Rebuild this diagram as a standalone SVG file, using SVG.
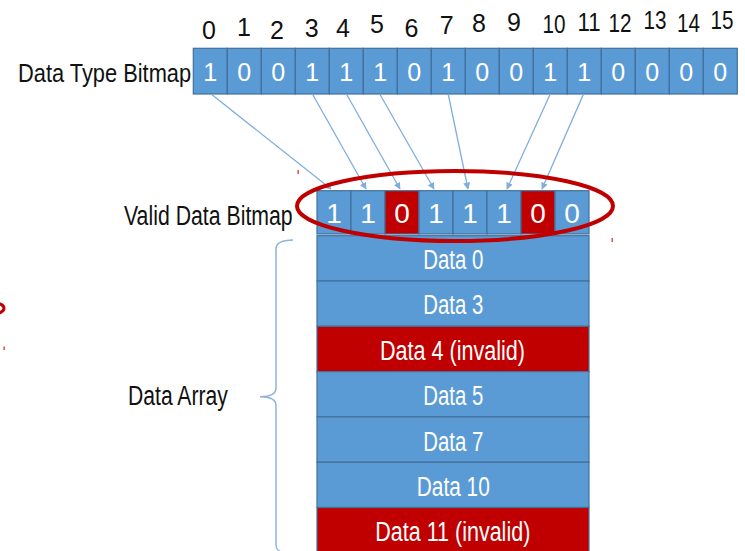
<svg xmlns="http://www.w3.org/2000/svg" width="745" height="551" viewBox="0 0 745 551">
<defs>
<style>
.t{font-family:"Liberation Sans",Arial,sans-serif;fill:#111}
.w{font-family:"Liberation Sans",Arial,sans-serif;fill:#fff;text-anchor:middle}
.idx{font-family:"Liberation Sans",Arial,sans-serif;fill:#111;font-size:25px;text-anchor:middle}
.b{fill:#5B9BD5;stroke:#41719C;stroke-width:1.2}
.r{fill:#C00000;stroke:#41719C;stroke-width:1.2}
.c{stroke:#7FAEDC;stroke-width:1.3;fill:none;marker-end:url(#ah)}
</style>
<marker id="ah" viewBox="0 0 10 10" refX="9" refY="5" markerWidth="7" markerHeight="7" orient="auto" markerUnits="userSpaceOnUse">
<path d="M0,0 L10,5 L0,10 z" fill="#7FAEDC"/>
</marker>
</defs>
<rect width="745" height="551" fill="#fff"/>

<g id="indices">
<text class="idx" x="209" y="39">0</text>
<text class="idx" x="244" y="36">1</text>
<text class="idx" x="277" y="39">2</text>
<text class="idx" x="311.7" y="36.7">3</text>
<text class="idx" x="343" y="36.7">4</text>
<text class="idx" x="377" y="33.3">5</text>
<text class="idx" x="411.5" y="37">6</text>
<text class="idx" x="446.7" y="34">7</text>
<text class="idx" x="479" y="32">8</text>
<text class="idx" x="514" y="30.7">9</text>
<text class="idx" x="554" y="33.3" textLength="23" lengthAdjust="spacingAndGlyphs">10</text>
<text class="idx" x="589" y="30.7" textLength="23" lengthAdjust="spacingAndGlyphs">11</text>
<text class="idx" x="620" y="31.7" textLength="23" lengthAdjust="spacingAndGlyphs">12</text>
<text class="idx" x="655" y="29.3" textLength="23" lengthAdjust="spacingAndGlyphs">13</text>
<text class="idx" x="688.5" y="31.7" textLength="23" lengthAdjust="spacingAndGlyphs">14</text>
<text class="idx" x="722" y="29.3" textLength="23" lengthAdjust="spacingAndGlyphs">15</text>
</g>

<g id="data-type-bitmap-label">
<text class="t" transform="translate(18,81.7) scale(0.84,1)" font-size="26">Data Type Bitmap</text>
</g>

<g id="data-type-bitmap" font-size="25">
<rect class="b" x="193.3" y="48.3" width="34" height="45.7"/>
<rect class="b" x="227.3" y="48.3" width="34" height="45.7"/>
<rect class="b" x="261.3" y="48.3" width="34" height="45.7"/>
<rect class="b" x="295.3" y="48.3" width="34" height="45.7"/>
<rect class="b" x="329.3" y="48.3" width="34" height="45.7"/>
<rect class="b" x="363.3" y="48.3" width="34" height="45.7"/>
<rect class="b" x="397.3" y="48.3" width="34" height="45.7"/>
<rect class="b" x="431.3" y="48.3" width="34" height="45.7"/>
<rect class="b" x="465.3" y="48.3" width="34" height="45.7"/>
<rect class="b" x="499.3" y="48.3" width="34" height="45.7"/>
<rect class="b" x="533.3" y="48.3" width="34" height="45.7"/>
<rect class="b" x="567.3" y="48.3" width="34" height="45.7"/>
<rect class="b" x="601.3" y="48.3" width="34" height="45.7"/>
<rect class="b" x="635.3" y="48.3" width="34" height="45.7"/>
<rect class="b" x="669.3" y="48.3" width="34" height="45.7"/>
<rect class="b" x="703.3" y="48.3" width="34" height="45.7"/>
<text class="w" x="210.3" y="81">1</text>
<text class="w" x="244.3" y="81">0</text>
<text class="w" x="278.3" y="81">0</text>
<text class="w" x="312.3" y="81">1</text>
<text class="w" x="346.3" y="81">1</text>
<text class="w" x="380.3" y="81">1</text>
<text class="w" x="414.3" y="81">0</text>
<text class="w" x="448.3" y="81">1</text>
<text class="w" x="482.3" y="81">0</text>
<text class="w" x="516.3" y="81">0</text>
<text class="w" x="550.3" y="81">1</text>
<text class="w" x="584.3" y="81">1</text>
<text class="w" x="618.3" y="81">0</text>
<text class="w" x="652.3" y="81">0</text>
<text class="w" x="686.3" y="81">0</text>
<text class="w" x="720.3" y="81">0</text>
</g>

<g id="connectors">
<line class="c" x1="211.7" y1="94.5" x2="331" y2="189"/>
<line class="c" x1="312.7" y1="94.5" x2="366" y2="189"/>
<line class="c" x1="346.7" y1="94.5" x2="400" y2="189"/>
<line class="c" x1="380" y1="94.5" x2="434" y2="189"/>
<line class="c" x1="448.3" y1="94.5" x2="468" y2="189"/>
<line class="c" x1="550" y1="94.5" x2="507" y2="189"/>
<line class="c" x1="583.3" y1="94.5" x2="542" y2="189"/>
</g>

<g id="valid-data-bitmap-label">
<text class="t" transform="translate(124,225) scale(0.76,1)" font-size="28">Valid Data Bitmap</text>
</g>

<g id="valid-data-bitmap" font-size="28">
<rect class="b" x="317" y="190.7" width="34" height="43.3"/>
<rect class="b" x="351" y="190.7" width="34" height="43.3"/>
<rect class="r" x="385" y="190.7" width="34" height="43.3"/>
<rect class="b" x="419" y="190.7" width="34" height="43.3"/>
<rect class="b" x="453" y="190.7" width="34" height="43.3"/>
<rect class="b" x="487" y="190.7" width="34" height="43.3"/>
<rect class="r" x="521" y="190.7" width="34" height="43.3"/>
<rect class="b" x="555" y="190.7" width="34" height="43.3"/>
<text class="w" x="334" y="222.5">1</text>
<text class="w" x="368" y="222.5">1</text>
<text class="w" x="402" y="222.5">0</text>
<text class="w" x="436" y="222.5">1</text>
<text class="w" x="470" y="222.5">1</text>
<text class="w" x="504" y="222.5">1</text>
<text class="w" x="538" y="222.5">0</text>
<text class="w" x="572" y="222.5">0</text>
</g>

<g id="data-array-label">
<text class="t" transform="translate(128,405) scale(0.755,1)" font-size="28">Data Array</text>
<path d="M293,240 C283,240.5 276,242 276,249 L276,388 C276,394 271,396.7 260,396.7 C271,396.7 276,399.5 276,405.5 L276,545 C276,552 283,553.5 293,554" fill="none" stroke="#8FB4DB" stroke-width="1.5"/>
</g>

<g id="data-array" font-size="27">
<rect class="b" x="317" y="235.7" width="272" height="45.3"/>
<rect class="b" x="317" y="281" width="272" height="45.3"/>
<rect class="r" x="317" y="326.3" width="272" height="45.3"/>
<rect class="b" x="317" y="371.6" width="272" height="45.3"/>
<rect class="b" x="317" y="416.9" width="272" height="45.3"/>
<rect class="b" x="317" y="462.2" width="272" height="45.3"/>
<rect class="r" x="317" y="507.5" width="272" height="48"/>
<text class="w" x="453.3" y="269" textLength="60" lengthAdjust="spacingAndGlyphs">Data 0</text>
<text class="w" x="453.3" y="314" textLength="60" lengthAdjust="spacingAndGlyphs">Data 3</text>
<text class="w" x="452.5" y="359.5" textLength="145" lengthAdjust="spacingAndGlyphs">Data 4 (invalid)</text>
<text class="w" x="453.3" y="405" textLength="60" lengthAdjust="spacingAndGlyphs">Data 5</text>
<text class="w" x="453.3" y="450.5" textLength="60" lengthAdjust="spacingAndGlyphs">Data 7</text>
<text class="w" x="453.3" y="496" textLength="73" lengthAdjust="spacingAndGlyphs">Data 10</text>
<text class="w" x="452.8" y="540.5" textLength="155" lengthAdjust="spacingAndGlyphs">Data 11 (invalid)</text>
</g>

<g id="highlight">
<ellipse cx="455" cy="206" rx="158" ry="35" fill="none" stroke="#C00000" stroke-width="4"/>
</g>

<g id="marks" fill="#E03030" stroke="none">
<rect x="297.5" y="170" width="1.3" height="4"/>
<rect x="611.5" y="238" width="1.3" height="4"/>
<rect x="3.5" y="346.5" width="1.3" height="3.5"/>
<ellipse cx="-6" cy="308.3" rx="10" ry="5.5" fill="none" stroke="#C00000" stroke-width="3"/>
</g>
</svg>
